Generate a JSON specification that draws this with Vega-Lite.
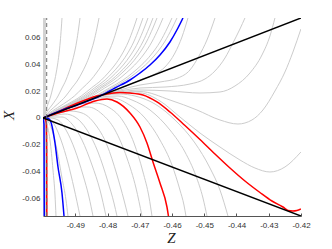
{
"$schema": "https://vega.github.io/schema/vega-lite/v6.json",
"width": 258, "height": 198,
"autosize": {"type": "none"},
"padding": {"left": 43, "top": 18, "right": 31, "bottom": 33},
"background": "white",
"config": {"view": {"stroke": null}, "axis": {"labelOverlap": false, "labelFlush": false, "labelBound": false}},
"datasets": {
"gray": [
{"c":"F1","Z":-0.5,"X":0},{"c":"F1","Z":-0.49928,"X":0.00519},{"c":"F1","Z":-0.49844,"X":0.01037},{"c":"F1","Z":-0.4976,"X":0.0163},{"c":"F1","Z":-0.49697,"X":0.02223},{"c":"F1","Z":-0.49634,"X":0.02816},{"c":"F1","Z":-0.49592,"X":0.03335},{"c":"F1","Z":-0.4955,"X":0.03927},{"c":"F1","Z":-0.49508,"X":0.04668},{"c":"F1","Z":-0.49466,"X":0.05632},{"c":"F1","Z":-0.49432,"X":0.06669},{"c":"F1","Z":-0.49411,"X":0.0741},
{"c":"F2","Z":-0.5,"X":0},{"c":"F2","Z":-0.49861,"X":0.00519},{"c":"F2","Z":-0.49697,"X":0.01037},{"c":"F2","Z":-0.49533,"X":0.0163},{"c":"F2","Z":-0.4941,"X":0.02223},{"c":"F2","Z":-0.49287,"X":0.02816},{"c":"F2","Z":-0.49205,"X":0.03335},{"c":"F2","Z":-0.49123,"X":0.03927},{"c":"F2","Z":-0.49041,"X":0.04668},{"c":"F2","Z":-0.48959,"X":0.05632},{"c":"F2","Z":-0.48894,"X":0.06669},{"c":"F2","Z":-0.48853,"X":0.0741},
{"c":"F3","Z":-0.5,"X":0},{"c":"F3","Z":-0.49789,"X":0.00519},{"c":"F3","Z":-0.49541,"X":0.01037},{"c":"F3","Z":-0.49293,"X":0.0163},{"c":"F3","Z":-0.49107,"X":0.02223},{"c":"F3","Z":-0.48921,"X":0.02816},{"c":"F3","Z":-0.48797,"X":0.03335},{"c":"F3","Z":-0.48673,"X":0.03927},{"c":"F3","Z":-0.48549,"X":0.04668},{"c":"F3","Z":-0.48425,"X":0.05632},{"c":"F3","Z":-0.48326,"X":0.06669},{"c":"F3","Z":-0.48264,"X":0.0741},
{"c":"F4","Z":-0.5,"X":0},{"c":"F4","Z":-0.4971,"X":0.00519},{"c":"F4","Z":-0.49369,"X":0.01037},{"c":"F4","Z":-0.49028,"X":0.0163},{"c":"F4","Z":-0.48772,"X":0.02223},{"c":"F4","Z":-0.48517,"X":0.02816},{"c":"F4","Z":-0.48346,"X":0.03335},{"c":"F4","Z":-0.48176,"X":0.03927},{"c":"F4","Z":-0.48005,"X":0.04668},{"c":"F4","Z":-0.47835,"X":0.05632},{"c":"F4","Z":-0.47698,"X":0.06669},{"c":"F4","Z":-0.47613,"X":0.0741},
{"c":"F5","Z":-0.5,"X":0},{"c":"F5","Z":-0.49646,"X":0.00519},{"c":"F5","Z":-0.4923,"X":0.01037},{"c":"F5","Z":-0.48814,"X":0.0163},{"c":"F5","Z":-0.48501,"X":0.02223},{"c":"F5","Z":-0.48189,"X":0.02816},{"c":"F5","Z":-0.47981,"X":0.03335},{"c":"F5","Z":-0.47773,"X":0.03927},{"c":"F5","Z":-0.47565,"X":0.04668},{"c":"F5","Z":-0.47357,"X":0.05632},{"c":"F5","Z":-0.4719,"X":0.06669},{"c":"F5","Z":-0.47086,"X":0.0741},
{"c":"F6","Z":-0.5,"X":0},{"c":"F6","Z":-0.49624,"X":0.00519},{"c":"F6","Z":-0.49181,"X":0.01037},{"c":"F6","Z":-0.48738,"X":0.0163},{"c":"F6","Z":-0.48406,"X":0.02223},{"c":"F6","Z":-0.48074,"X":0.02816},{"c":"F6","Z":-0.47852,"X":0.03335},{"c":"F6","Z":-0.47631,"X":0.03927},{"c":"F6","Z":-0.47409,"X":0.04668},{"c":"F6","Z":-0.47188,"X":0.05632},{"c":"F6","Z":-0.47011,"X":0.06669},{"c":"F6","Z":-0.469,"X":0.0741},
{"c":"F7","Z":-0.5,"X":0},{"c":"F7","Z":-0.49605,"X":0.00519},{"c":"F7","Z":-0.4914,"X":0.01037},{"c":"F7","Z":-0.48675,"X":0.0163},{"c":"F7","Z":-0.48326,"X":0.02223},{"c":"F7","Z":-0.47977,"X":0.02816},{"c":"F7","Z":-0.47745,"X":0.03335},{"c":"F7","Z":-0.47512,"X":0.03927},{"c":"F7","Z":-0.4728,"X":0.04668},{"c":"F7","Z":-0.47047,"X":0.05632},{"c":"F7","Z":-0.46861,"X":0.06669},{"c":"F7","Z":-0.46745,"X":0.0741},
{"c":"F8","Z":-0.5,"X":0},{"c":"F8","Z":-0.49586,"X":0.00519},{"c":"F8","Z":-0.49099,"X":0.01037},{"c":"F8","Z":-0.48612,"X":0.0163},{"c":"F8","Z":-0.48246,"X":0.02223},{"c":"F8","Z":-0.47881,"X":0.02816},{"c":"F8","Z":-0.47637,"X":0.03335},{"c":"F8","Z":-0.47394,"X":0.03927},{"c":"F8","Z":-0.4715,"X":0.04668},{"c":"F8","Z":-0.46907,"X":0.05632},{"c":"F8","Z":-0.46712,"X":0.06669},{"c":"F8","Z":-0.4659,"X":0.0741},
{"c":"F9","Z":-0.5,"X":0},{"c":"F9","Z":-0.49571,"X":0.00519},{"c":"F9","Z":-0.49066,"X":0.01037},{"c":"F9","Z":-0.48561,"X":0.0163},{"c":"F9","Z":-0.48182,"X":0.02223},{"c":"F9","Z":-0.47804,"X":0.02816},{"c":"F9","Z":-0.47551,"X":0.03335},{"c":"F9","Z":-0.47299,"X":0.03927},{"c":"F9","Z":-0.47047,"X":0.04668},{"c":"F9","Z":-0.46794,"X":0.05632},{"c":"F9","Z":-0.46592,"X":0.06669},{"c":"F9","Z":-0.46466,"X":0.0741},
{"c":"F10","Z":-0.5,"X":0},{"c":"F10","Z":-0.49548,"X":0.00519},{"c":"F10","Z":-0.49017,"X":0.01037},{"c":"F10","Z":-0.48485,"X":0.0163},{"c":"F10","Z":-0.48087,"X":0.02223},{"c":"F10","Z":-0.47688,"X":0.02816},{"c":"F10","Z":-0.47423,"X":0.03335},{"c":"F10","Z":-0.47157,"X":0.03927},{"c":"F10","Z":-0.46891,"X":0.04668},{"c":"F10","Z":-0.46626,"X":0.05632},{"c":"F10","Z":-0.46413,"X":0.06669},{"c":"F10","Z":-0.4628,"X":0.0741},
{"c":"F11","Z":-0.5,"X":0},{"c":"F11","Z":-0.49514,"X":0.00519},{"c":"F11","Z":-0.48943,"X":0.01037},{"c":"F11","Z":-0.48372,"X":0.0163},{"c":"F11","Z":-0.47943,"X":0.02223},{"c":"F11","Z":-0.47515,"X":0.02816},{"c":"F11","Z":-0.47229,"X":0.03335},{"c":"F11","Z":-0.46944,"X":0.03927},{"c":"F11","Z":-0.46658,"X":0.04668},{"c":"F11","Z":-0.46372,"X":0.05632},{"c":"F11","Z":-0.46144,"X":0.06669},{"c":"F11","Z":-0.46001,"X":0.0741},
{"c":"F12","Z":-0.5,"X":0},{"c":"F12","Z":-0.49496,"X":0.00519},{"c":"F12","Z":-0.48902,"X":0.01037},{"c":"F12","Z":-0.48309,"X":0.0163},{"c":"F12","Z":-0.47864,"X":0.02223},{"c":"F12","Z":-0.47419,"X":0.02816},{"c":"F12","Z":-0.47122,"X":0.03335},{"c":"F12","Z":-0.46825,"X":0.03927},{"c":"F12","Z":-0.46529,"X":0.04668},{"c":"F12","Z":-0.46232,"X":0.05632},{"c":"F12","Z":-0.45995,"X":0.06669},{"c":"F12","Z":-0.45846,"X":0.0741},
{"c":"C188","Z":-0.5,"X":0},{"c":"C188","Z":-0.49163,"X":0.00778},{"c":"C188","Z":-0.48233,"X":0.0163},{"c":"C188","Z":-0.47613,"X":0.02186},{"c":"C188","Z":-0.46993,"X":0.02816},{"c":"C188","Z":-0.46528,"X":0.0326},{"c":"C188","Z":-0.46218,"X":0.03779},{"c":"C188","Z":-0.45908,"X":0.04817},{"c":"C188","Z":-0.45691,"X":0.06002},{"c":"C188","Z":-0.45505,"X":0.0741},
{"c":"C215","Z":-0.5,"X":0},{"c":"C215","Z":-0.49163,"X":0.00778},{"c":"C215","Z":-0.48233,"X":0.0163},{"c":"C215","Z":-0.47613,"X":0.02075},{"c":"C215","Z":-0.46993,"X":0.02445},{"c":"C215","Z":-0.46373,"X":0.02668},{"c":"C215","Z":-0.45815,"X":0.02964},{"c":"C215","Z":-0.45443,"X":0.03557},{"c":"C215","Z":-0.45164,"X":0.04594},{"c":"C215","Z":-0.44916,"X":0.0578},{"c":"C215","Z":-0.44668,"X":0.0741},
{"c":"C245","Z":-0.5,"X":0},{"c":"C245","Z":-0.49163,"X":0.00778},{"c":"C245","Z":-0.48233,"X":0.0163},{"c":"C245","Z":-0.47613,"X":0.02001},{"c":"C245","Z":-0.46993,"X":0.02223},{"c":"C245","Z":-0.46218,"X":0.02297},{"c":"C245","Z":-0.45443,"X":0.02519},{"c":"C245","Z":-0.44978,"X":0.0289},{"c":"C245","Z":-0.44668,"X":0.03483},{"c":"C245","Z":-0.44358,"X":0.04446},{"c":"C245","Z":-0.4411,"X":0.05558},{"c":"C245","Z":-0.43893,"X":0.06595},{"c":"C245","Z":-0.43738,"X":0.0741},
{"c":"C275","Z":-0.5,"X":0},{"c":"C275","Z":-0.49163,"X":0.00778},{"c":"C275","Z":-0.48233,"X":0.0163},{"c":"C275","Z":-0.47613,"X":0.01927},{"c":"C275","Z":-0.46993,"X":0.02075},{"c":"C275","Z":-0.46063,"X":0.02001},{"c":"C275","Z":-0.45133,"X":0.01853},{"c":"C275","Z":-0.44513,"X":0.01927},{"c":"C275","Z":-0.44048,"X":0.02371},{"c":"C275","Z":-0.43583,"X":0.03335},{"c":"C275","Z":-0.43211,"X":0.04668},{"c":"C275","Z":-0.42963,"X":0.06076},{"c":"C275","Z":-0.42808,"X":0.0741},
{"c":"UU","Z":-0.5,"X":0},{"c":"UU","Z":-0.49163,"X":0.00778},{"c":"UU","Z":-0.48233,"X":0.0163},{"c":"UU","Z":-0.47613,"X":0.0189},{"c":"UU","Z":-0.46993,"X":0.01964},{"c":"UU","Z":-0.46063,"X":0.01334},{"c":"UU","Z":-0.45226,"X":0.00593},{"c":"UU","Z":-0.44513,"X":-0.00148},{"c":"UU","Z":-0.43955,"X":-0.00445},{"c":"UU","Z":-0.43521,"X":-0.00148},{"c":"UU","Z":-0.4318,"X":0.00593},{"c":"UU","Z":-0.42808,"X":0.02001},{"c":"UU","Z":-0.42498,"X":0.03409},{"c":"UU","Z":-0.4225,"X":0.04891},{"c":"UU","Z":-0.42002,"X":0.06595},
{"c":"LU","Z":-0.5,"X":0},{"c":"LU","Z":-0.49163,"X":0.00778},{"c":"LU","Z":-0.48233,"X":0.0163},{"c":"LU","Z":-0.47613,"X":0.01853},{"c":"LU","Z":-0.46993,"X":0.01853},{"c":"LU","Z":-0.46373,"X":0.0126},{"c":"LU","Z":-0.45753,"X":0.00074},{"c":"LU","Z":-0.45133,"X":-0.01112},{"c":"LU","Z":-0.44513,"X":-0.02149},{"c":"LU","Z":-0.43893,"X":-0.03112},{"c":"LU","Z":-0.43428,"X":-0.03705},{"c":"LU","Z":-0.42963,"X":-0.04001},{"c":"LU","Z":-0.42498,"X":-0.03631},{"c":"LU","Z":-0.42002,"X":-0.02519},
{"c":"Dc","Z":-0.5,"X":0},{"c":"Dc","Z":-0.49163,"X":0.00815},{"c":"Dc","Z":-0.48233,"X":0.0163},{"c":"Dc","Z":-0.47613,"X":0.01778},{"c":"Dc","Z":-0.47148,"X":0.0163},{"c":"Dc","Z":-0.46528,"X":0.01037},{"c":"Dc","Z":-0.45908,"X":-0.00148},{"c":"Dc","Z":-0.45288,"X":-0.01853},{"c":"Dc","Z":-0.44823,"X":-0.03705},{"c":"Dc","Z":-0.44513,"X":-0.05335},{"c":"Dc","Z":-0.44265,"X":-0.07262},
{"c":"Db","Z":-0.5,"X":0},{"c":"Db","Z":-0.49163,"X":0.00778},{"c":"Db","Z":-0.48233,"X":0.01556},{"c":"Db","Z":-0.47675,"X":0.0163},{"c":"Db","Z":-0.47241,"X":0.01334},{"c":"Db","Z":-0.46683,"X":0.00593},{"c":"Db","Z":-0.46063,"X":-0.00889},{"c":"Db","Z":-0.45598,"X":-0.02519},{"c":"Db","Z":-0.45257,"X":-0.04298},{"c":"Db","Z":-0.4504,"X":-0.05928},{"c":"Db","Z":-0.44916,"X":-0.07262},
{"c":"Da","Z":-0.5,"X":0},{"c":"Da","Z":-0.49163,"X":0.00741},{"c":"Da","Z":-0.48233,"X":0.01482},{"c":"Da","Z":-0.4783,"X":0.01482},{"c":"Da","Z":-0.47365,"X":0.01037},{"c":"Da","Z":-0.46838,"X":0},{"c":"Da","Z":-0.46373,"X":-0.0163},{"c":"Da","Z":-0.46001,"X":-0.03483},{"c":"Da","Z":-0.45753,"X":-0.05335},{"c":"Da","Z":-0.45629,"X":-0.06447},{"c":"Da","Z":-0.45567,"X":-0.07262},
{"c":"L1","Z":-0.5,"X":0},{"c":"L1","Z":-0.49473,"X":0.00593},{"c":"L1","Z":-0.48853,"X":0.01037},{"c":"L1","Z":-0.48388,"X":0.01112},{"c":"L1","Z":-0.47923,"X":0.00741},{"c":"L1","Z":-0.4752,"X":-0.00222},{"c":"L1","Z":-0.47179,"X":-0.01853},{"c":"L1","Z":-0.469,"X":-0.04001},{"c":"L1","Z":-0.46714,"X":-0.05854},{"c":"L1","Z":-0.46621,"X":-0.07262},
{"c":"L2","Z":-0.5,"X":0},{"c":"L2","Z":-0.49535,"X":0.00445},{"c":"L2","Z":-0.49008,"X":0.00815},{"c":"L2","Z":-0.48605,"X":0.00815},{"c":"L2","Z":-0.48171,"X":0.00296},{"c":"L2","Z":-0.47768,"X":-0.00889},{"c":"L2","Z":-0.47396,"X":-0.02964},{"c":"L2","Z":-0.47117,"X":-0.05187},{"c":"L2","Z":-0.46931,"X":-0.07262},
{"c":"L3","Z":-0.5,"X":0},{"c":"L3","Z":-0.49628,"X":0.00296},{"c":"L3","Z":-0.49163,"X":0.00519},{"c":"L3","Z":-0.48791,"X":0.00371},{"c":"L3","Z":-0.48388,"X":-0.00445},{"c":"L3","Z":-0.48016,"X":-0.02001},{"c":"L3","Z":-0.47706,"X":-0.04224},{"c":"L3","Z":-0.47489,"X":-0.06076},{"c":"L3","Z":-0.47365,"X":-0.07262},
{"c":"L4","Z":-0.5,"X":0},{"c":"L4","Z":-0.4969,"X":0.00148},{"c":"L4","Z":-0.49318,"X":0.00296},{"c":"L4","Z":-0.49008,"X":0.00074},{"c":"L4","Z":-0.48636,"X":-0.00889},{"c":"L4","Z":-0.48295,"X":-0.02519},{"c":"L4","Z":-0.47985,"X":-0.04742},{"c":"L4","Z":-0.47799,"X":-0.06299},{"c":"L4","Z":-0.47706,"X":-0.07262},
{"c":"L5","Z":-0.5,"X":0},{"c":"L5","Z":-0.49721,"X":0.00074},{"c":"L5","Z":-0.49411,"X":0.00074},{"c":"L5","Z":-0.49101,"X":-0.00445},{"c":"L5","Z":-0.48791,"X":-0.0163},{"c":"L5","Z":-0.48481,"X":-0.03483},{"c":"L5","Z":-0.48233,"X":-0.05335},{"c":"L5","Z":-0.48047,"X":-0.07262},
{"c":"L6","Z":-0.5,"X":0},{"c":"L6","Z":-0.49783,"X":0},{"c":"L6","Z":-0.49535,"X":-0.00148},{"c":"L6","Z":-0.49287,"X":-0.00889},{"c":"L6","Z":-0.49008,"X":-0.02371},{"c":"L6","Z":-0.4876,"X":-0.04224},{"c":"L6","Z":-0.48574,"X":-0.05854},{"c":"L6","Z":-0.4845,"X":-0.07262},
{"c":"L7","Z":-0.5,"X":0},{"c":"L7","Z":-0.49845,"X":-0.00074},{"c":"L7","Z":-0.49659,"X":-0.00445},{"c":"L7","Z":-0.49442,"X":-0.0163},{"c":"L7","Z":-0.49225,"X":-0.03335},{"c":"L7","Z":-0.49039,"X":-0.05187},{"c":"L7","Z":-0.48853,"X":-0.07262},
{"c":"L8","Z":-0.5,"X":0},{"c":"L8","Z":-0.49876,"X":-0.00148},{"c":"L8","Z":-0.49721,"X":-0.00889},{"c":"L8","Z":-0.49566,"X":-0.02371},{"c":"L8","Z":-0.49411,"X":-0.04446},{"c":"L8","Z":-0.49287,"X":-0.06076},{"c":"L8","Z":-0.49225,"X":-0.07262},
{"c":"L9","Z":-0.5,"X":0},{"c":"L9","Z":-0.49907,"X":-0.00296},{"c":"L9","Z":-0.49783,"X":-0.0163},{"c":"L9","Z":-0.4969,"X":-0.03853},{"c":"L9","Z":-0.49628,"X":-0.05706},{"c":"L9","Z":-0.49597,"X":-0.07262}
],
"red": [
{"c":"R1","Z":-0.5,"X":0},{"c":"R1","Z":-0.49628,"X":0.00371},{"c":"R1","Z":-0.4907,"X":0.00963},{"c":"R1","Z":-0.48326,"X":0.0163},{"c":"R1","Z":-0.47923,"X":0.01815},{"c":"R1","Z":-0.47613,"X":0.0189},{"c":"R1","Z":-0.47303,"X":0.01853},{"c":"R1","Z":-0.469,"X":0.01704},{"c":"R1","Z":-0.46466,"X":0.01186},{"c":"R1","Z":-0.46063,"X":0.00445},{"c":"R1","Z":-0.45598,"X":-0.00556},{"c":"R1","Z":-0.45133,"X":-0.01593},{"c":"R1","Z":-0.44668,"X":-0.02668},{"c":"R1","Z":-0.44203,"X":-0.03705},{"c":"R1","Z":-0.43738,"X":-0.04668},{"c":"R1","Z":-0.43273,"X":-0.0552},{"c":"R1","Z":-0.42901,"X":-0.0615},{"c":"R1","Z":-0.4256,"X":-0.06595},{"c":"R1","Z":-0.42405,"X":-0.06854},{"c":"R1","Z":-0.4225,"X":-0.06891},{"c":"R1","Z":-0.42126,"X":-0.06854},{"c":"R1","Z":-0.42002,"X":-0.06743},
{"c":"R2","Z":-0.5,"X":0},{"c":"R2","Z":-0.49628,"X":0.00296},{"c":"R2","Z":-0.48946,"X":0.00741},{"c":"R2","Z":-0.48388,"X":0.0126},{"c":"R2","Z":-0.48016,"X":0.01408},{"c":"R2","Z":-0.47706,"X":0.01186},{"c":"R2","Z":-0.47303,"X":0.00371},{"c":"R2","Z":-0.46993,"X":-0.00667},{"c":"R2","Z":-0.46776,"X":-0.01853},{"c":"R2","Z":-0.4659,"X":-0.0326},{"c":"R2","Z":-0.46373,"X":-0.04817},{"c":"R2","Z":-0.46156,"X":-0.06595},{"c":"R2","Z":-0.4611,"X":-0.07262},
{"c":"R3","Z":-0.5,"X":0},{"c":"R3","Z":-0.49938,"X":-0.00037},{"c":"R3","Z":-0.49898,"X":-0.0037},{"c":"R3","Z":-0.49885,"X":-0.02371},{"c":"R3","Z":-0.49882,"X":-0.07262}
],
"blue": [
{"c":"B1","Z":-0.5,"X":0},{"c":"B1","Z":-0.49473,"X":0.00519},{"c":"B1","Z":-0.48853,"X":0.01037},{"c":"B1","Z":-0.48233,"X":0.0163},{"c":"B1","Z":-0.47768,"X":0.02223},{"c":"B1","Z":-0.47303,"X":0.02816},{"c":"B1","Z":-0.46993,"X":0.03335},{"c":"B1","Z":-0.46683,"X":0.03927},{"c":"B1","Z":-0.46373,"X":0.04668},{"c":"B1","Z":-0.46063,"X":0.05632},{"c":"B1","Z":-0.45815,"X":0.06669},{"c":"B1","Z":-0.4566,"X":0.0741},
{"c":"B2","Z":-0.5,"X":0},{"c":"B2","Z":-0.49876,"X":0},{"c":"B2","Z":-0.49783,"X":-0.00148},{"c":"B2","Z":-0.49628,"X":-0.01853},{"c":"B2","Z":-0.49535,"X":-0.03631},{"c":"B2","Z":-0.49411,"X":-0.05558},{"c":"B2","Z":-0.49349,"X":-0.07262},
{"c":"B3","Z":-0.5,"X":0},{"c":"B3","Z":-0.49969,"X":-0.00445},{"c":"B3","Z":-0.4996,"X":-0.07262}
],
"black": [
{"c":"K1","Z":-0.5,"X":0},{"c":"K1","Z":-0.42,"X":0.0741},
{"c":"K2","Z":-0.5,"X":0},{"c":"K2","Z":-0.42,"X":-0.07262}
]
},
"encoding": {
"x": {"field": "Z", "type": "quantitative", "scale": {"domain": [-0.5, -0.42], "nice": false, "zero": false},
"axis": {"values": [-0.49, -0.48, -0.47, -0.46, -0.45, -0.44, -0.43, -0.42], "labelExpr": "'-' + format(abs(datum.value), '.2f')", "labelOverlap": false, "labelFlush": false, "labelFont": "Liberation Sans", "labelFontSize": 8, "labelColor": "#333333", "tickColor": "#555555", "tickSize": -3, "labelPadding": 8, "domainColor": "#555555", "grid": false, "title": "Z", "titleFont": "Liberation Serif", "titleFontStyle": "italic", "titleFontWeight": "normal", "titleFontSize": 15, "titleColor": "#222222", "titleX": 128, "titleY": 21, "titleBaseline": "middle", "titleAlign": "center"}},
"y": {"field": "X", "type": "quantitative", "scale": {"domain": [-0.07262, 0.0741], "nice": false, "zero": false},
"axis": {"values": [-0.06, -0.04, -0.02, 0, 0.02, 0.04, 0.06], "labelExpr": "datum.value == 0 ? '0' : (datum.value < 0 ? '-' : '') + format(abs(datum.value), '.2f')", "labelOverlap": false, "labelFlush": false, "labelFont": "Liberation Sans", "labelFontSize": 8, "labelColor": "#333333", "ticks": false, "domain": false, "labelPadding": 3, "grid": false, "title": "X", "titleFont": "Liberation Serif", "titleFontStyle": "italic", "titleFontWeight": "normal", "titleFontSize": 15, "titleColor": "#222222", "titleAngle": -90, "titleX": -35, "titleY": 97, "titleBaseline": "middle", "titleAlign": "center"}}
},
"layer": [
{
"data": {"values": [{"Z": -0.49953, "X": -0.07262, "X2": 0.0741}]},
"mark": {"type": "rule", "color": "#d2d2d2", "strokeWidth": 3},
"encoding": {"y2": {"field": "X2"}}
},
{
"data": {"name": "gray"},
"mark": {"type": "line", "color": "#cccccc", "strokeWidth": 1, "interpolate": "monotone", "clip": true},
"encoding": {"detail": {"field": "c"}}
},
{
"data": {"name": "red"},
"mark": {"type": "line", "color": "#ff0000", "strokeWidth": 1.5, "interpolate": "monotone", "clip": true},
"encoding": {"detail": {"field": "c"}}
},
{
"data": {"name": "blue"},
"mark": {"type": "line", "color": "#0000ff", "strokeWidth": 1.5, "interpolate": "monotone", "clip": true},
"encoding": {"detail": {"field": "c"}}
},
{
"data": {"name": "black"},
"mark": {"type": "line", "color": "#000000", "strokeWidth": 1.5, "clip": true},
"encoding": {"detail": {"field": "c"}}
},
{
"data": {"values": [{"Z": -0.49885, "X": -0.07262, "X2": 0.0741}]},
"mark": {"type": "rule", "color": "#707070", "strokeWidth": 1, "strokeDash": [4, 3]},
"encoding": {"y2": {"field": "X2"}}
}
]
}
